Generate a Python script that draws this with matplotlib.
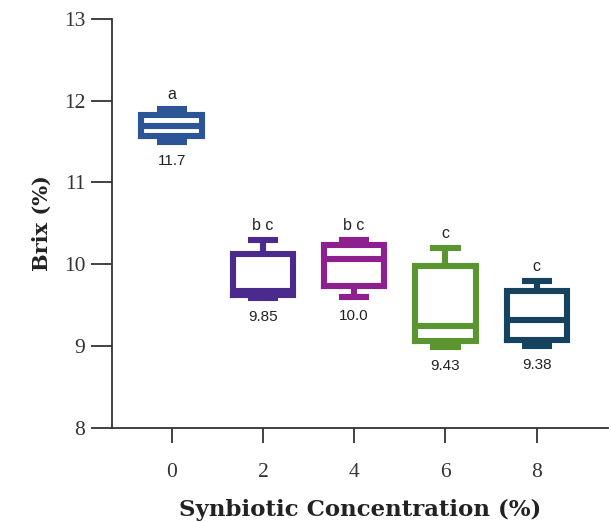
import matplotlib
matplotlib.use("Agg")
import matplotlib.pyplot as plt

# Synbiotic concentration groups (%)
concentrations = [0, 2, 4, 6, 8]
tick_labels = ["0", "2", "4", "6", "8"]

# Box-plot summaries for Brix (%)
whisker_low = [11.50, 9.59, 9.60, 8.99, 9.00]
quartile_1 = [11.57, 9.63, 9.74, 9.06, 9.08]
medians = [11.69, 9.68, 10.07, 9.25, 9.32]
quartile_3 = [11.83, 10.13, 10.24, 9.98, 9.67]
whisker_high = [11.90, 10.30, 10.30, 10.20, 9.80]

# Mean values written under each box and significance letters above
mean_labels = ["11.7", "9.85", "10.0", "9.43", "9.38"]
letters = ["a", "b c", "b c", "c", "c"]

colors = ["#2B5597", "#4B2A8E", "#8E1F8E", "#5A952F", "#15435F"]

fig = plt.figure(figsize=(6.11, 5.22), dpi=100)
ax = fig.add_axes([0.183, 0.180, 0.812, 0.784])

stats = []
for i in range(len(concentrations)):
    stats.append(dict(whislo=whisker_low[i], q1=quartile_1[i], med=medians[i],
                      q3=quartile_3[i], whishi=whisker_high[i], fliers=[]))

lw = 4.4
for i, s in enumerate(stats):
    c = colors[i]
    ax.bxp([s], positions=[concentrations[i]], widths=1.32, capwidths=0.66,
           showfliers=False, patch_artist=False,
           boxprops=dict(color=c, linewidth=lw, solid_joinstyle="miter"),
           medianprops=dict(color=c, linewidth=lw, solid_capstyle="butt"),
           whiskerprops=dict(color=c, linewidth=lw, solid_capstyle="butt"),
           capprops=dict(color=c, linewidth=lw, solid_capstyle="butt"))
    ax.text(concentrations[i], whisker_high[i] + 0.085, letters[i],
            ha="center", va="bottom", fontsize=11.5, family="Liberation Sans",
            color="#222222")
    ax.text(concentrations[i], whisker_low[i] - 0.15, mean_labels[i],
            ha="center", va="top", fontsize=11, family="Liberation Sans",
            color="#222222")

ax.set_xlim(-1.31, 9.56)
ax.set_ylim(8, 13)
ax.set_yticks([8, 9, 10, 11, 12, 13])
ax.set_xticks(concentrations)
ax.set_xticklabels(tick_labels)

for side in ["top", "right"]:
    ax.spines[side].set_visible(False)
for side in ["left", "bottom"]:
    ax.spines[side].set_linewidth(1.3)
    ax.spines[side].set_color("#333333")

ax.tick_params(axis="y", direction="out", length=15, width=1.3, color="#333333",
               labelsize=15.5, pad=4, labelcolor="#333333")
ax.tick_params(axis="x", direction="out", length=11, width=1.3, color="#333333",
               labelsize=15.5, pad=14, labelcolor="#333333")
for lab in ax.get_xticklabels() + ax.get_yticklabels():
    lab.set_family("Liberation Serif")

ax.set_xlabel("Synbiotic Concentration (%)", fontsize=16.5, fontweight="bold",
              family="DejaVu Serif", labelpad=12, color="#222222")
ax.set_ylabel("Brix (%)", fontsize=15, fontweight="bold",
              family="DejaVu Serif", labelpad=9, color="#222222")

fig.savefig("out.png", dpi=100)
